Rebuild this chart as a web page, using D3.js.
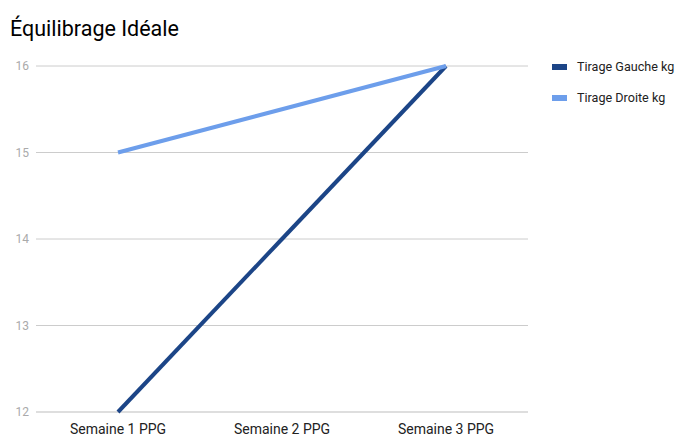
<!DOCTYPE html>
<html>
<head>
<meta charset="utf-8">
<script src="https://cdn.jsdelivr.net/npm/d3@7"></script>
<style>
  html, body { margin: 0; padding: 0; background: #fff; }
  svg { display: block; font-family: Roboto, "Noto Sans", sans-serif; }
</style>
</head>
<body>
<svg id="chart" width="677" height="437"></svg>
<script>
// Weekly pull measurements (kg)
const categories = ["Semaine 1 PPG", "Semaine 2 PPG", "Semaine 3 PPG"];
const seriesNames = ["Tirage Gauche kg", "Tirage Droite kg"];
const gaucheValues = [12, 14, 16];
const droiteValues = [15, 15.5, 16];
const yTicks = [12, 13, 14, 15, 16];
const seriesColors = ["#1c4587", "#6d9eeb"];

(function () {
  const svg = d3.select("#chart");
  const plot = { left: 36, right: 528, top: 66, bottom: 412 };

  const x = d3.scalePoint().domain(categories).range([plot.left, plot.right]).padding(0.5);
  const y = d3.scaleLinear().domain([12, 16]).range([plot.bottom, plot.top]);

  // Title
  svg.append("text")
    .attr("x", 10).attr("y", 36)
    .attr("font-size", 21.5).attr("fill", "#000")
    .text("Équilibrage Idéale");

  // Horizontal gridlines and y labels
  const yAxis = svg.append("g");
  yTicks.forEach(t => {
    yAxis.append("line")
      .attr("x1", plot.left).attr("x2", plot.right)
      .attr("y1", y(t)).attr("y2", y(t))
      .attr("stroke", t === 12 ? "#bdbdbd" : "#cccccc").attr("stroke-width", 1);
    yAxis.append("text")
      .attr("x", 29).attr("y", y(t)).attr("dy", "0.35em")
      .attr("text-anchor", "end").attr("font-size", 12).attr("fill", "#aaa")
      .text(t);
  });

  // Category labels
  svg.append("g").selectAll("text").data(categories).join("text")
    .attr("x", d => x(d)).attr("y", 434)
    .attr("text-anchor", "middle").attr("font-size", 14).attr("fill", "#222")
    .text(d => d);

  // Lines
  const line = d3.line().x((d, i) => x(categories[i])).y(d => y(d));
  [gaucheValues, droiteValues].forEach((vals, i) => {
    svg.append("path")
      .datum(vals)
      .attr("d", line)
      .attr("fill", "none")
      .attr("stroke", seriesColors[i])
      .attr("stroke-width", 4);
  });

  // Legend
  const legend = svg.append("g");
  seriesNames.forEach((name, i) => {
    const ly = 67 + i * 31;
    legend.append("rect")
      .attr("x", 552).attr("y", ly - 3).attr("width", 15).attr("height", 6)
      .attr("fill", seriesColors[i]);
    legend.append("text")
      .attr("x", 577).attr("y", ly).attr("dy", "0.35em")
      .attr("font-size", 12.6).attr("fill", "#222")
      .text(name);
  });
})();
</script>
</body>
</html>
